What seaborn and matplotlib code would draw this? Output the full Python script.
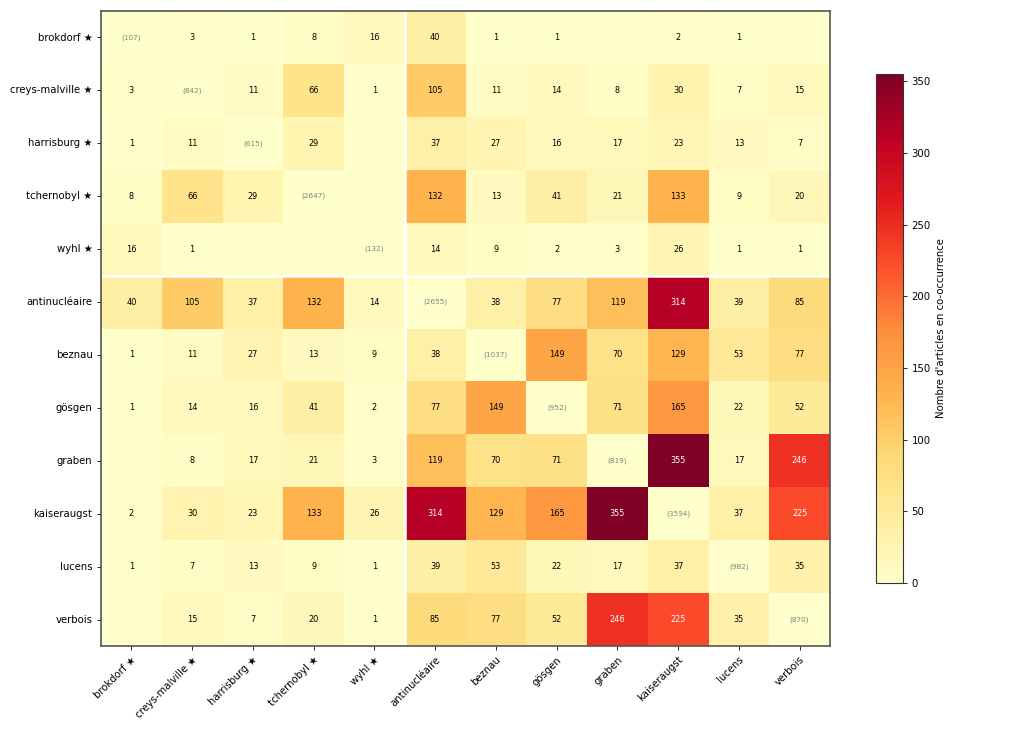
import numpy as np
import pandas as pd
import seaborn as sns
import matplotlib
matplotlib.use("Agg")
import matplotlib.pyplot as plt

# Termes (les 5 premiers sont des événements marqués d'une étoile)
termes = ["brokdorf ★", "creys-malville ★", "harrisburg ★", "tchernobyl ★", "wyhl ★",
          "antinucléaire", "beznau", "gösgen", "graben", "kaiseraugst", "lucens", "verbois"]

# Nombre d'articles par terme (diagonale)
diagonale = [107, 842, 615, 2647, 132, 2655, 1037, 952, 819, 3594, 982, 870]

# Co-occurrences (matrice symétrique, diagonale mise à 0)
cooc = [
    [0, 3, 1, 8, 16, 40, 1, 1, 0, 2, 1, 0],
    [3, 0, 11, 66, 1, 105, 11, 14, 8, 30, 7, 15],
    [1, 11, 0, 29, 0, 37, 27, 16, 17, 23, 13, 7],
    [8, 66, 29, 0, 0, 132, 13, 41, 21, 133, 9, 20],
    [16, 1, 0, 0, 0, 14, 9, 2, 3, 26, 1, 1],
    [40, 105, 37, 132, 14, 0, 38, 77, 119, 314, 39, 85],
    [1, 11, 27, 13, 9, 38, 0, 149, 70, 129, 53, 77],
    [1, 14, 16, 41, 2, 77, 149, 0, 71, 165, 22, 52],
    [0, 8, 17, 21, 3, 119, 70, 71, 0, 355, 17, 246],
    [2, 30, 23, 133, 26, 314, 129, 165, 355, 0, 37, 225],
    [1, 7, 13, 9, 1, 39, 53, 22, 17, 37, 0, 35],
    [0, 15, 7, 20, 1, 85, 77, 52, 246, 225, 35, 0],
]

n_evenements = 5

df = pd.DataFrame(cooc, index=termes, columns=termes)
vmax = df.values.max()

fig = plt.figure(figsize=(10.24, 7.31), dpi=100)
ax = fig.add_axes([101 / 1024, 85 / 731, 729 / 1024, 635 / 731])
cax = fig.add_axes([876 / 1024, 148 / 731, 27 / 1024, 509 / 731])

sns.heatmap(df, ax=ax, cbar_ax=cax, cmap="YlOrRd", vmin=0, vmax=vmax,
            annot=False, linewidths=0, square=False)

# Annotations des cellules
for i in range(len(termes)):
    for j in range(len(termes)):
        if i == j:
            ax.text(j + 0.5, i + 0.5, f"({diagonale[i]})", ha="center", va="center",
                    fontsize=5.2, color="gray")
        else:
            v = df.iat[i, j]
            if v > 0:
                couleur = "white" if v > 0.6 * vmax else "black"
                ax.text(j + 0.5, i + 0.5, str(v), ha="center", va="center",
                        fontsize=5.9, color=couleur)

# Séparation événements / autres termes
ax.axhline(n_evenements, color="white", linewidth=1.8)
ax.axvline(n_evenements, color="white", linewidth=1.8)

for s in ax.spines.values():
    s.set_visible(True)
    s.set_color("#555555")
    s.set_linewidth(1.2)

ax.set_xlabel("")
ax.set_ylabel("")
ax.tick_params(axis="both", length=2.6, width=0.6, labelsize=7.3)
ax.set_xticklabels(termes, rotation=45, ha="right", rotation_mode="anchor")
ax.set_yticklabels(termes, rotation=0)

cb = ax.collections[0].colorbar
cb.outline.set_visible(True)
cb.outline.set_linewidth(0.8)
cb.outline.set_edgecolor("#333333")
cb.set_ticks([0, 50, 100, 150, 200, 250, 300, 350])
cb.ax.tick_params(labelsize=7.3, length=2.6, width=0.6)
cb.set_label("Nombre d'articles en co-occurrence", fontsize=7.3)

fig.savefig("out.png", dpi=100)
